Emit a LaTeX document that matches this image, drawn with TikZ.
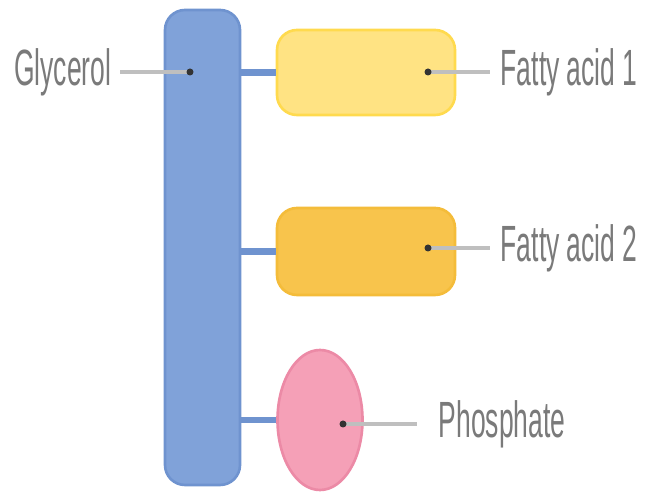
\documentclass[tikz,border=0pt]{standalone}
\usepackage{fontspec}
\newfontfamily\labelfont{Liberation Sans}[FakeStretch=0.52]
\usetikzlibrary{positioning,shapes.geometric}
\definecolor{barblue}{HTML}{80A2D9}
\definecolor{barline}{HTML}{6F93CF}
\definecolor{fayellow}{HTML}{FFE383}
\definecolor{fayline}{HTML}{FFDA4E}
\definecolor{faorange}{HTML}{F8C44C}
\definecolor{faoline}{HTML}{F4BC3A}
\definecolor{phpink}{HTML}{F5A0B7}
\definecolor{phline}{HTML}{EC8AA6}
\definecolor{labelgrey}{HTML}{7A7A7A}
\begin{document}
\begin{tikzpicture}[thick,
  part/.style = {draw, line width=1.5pt, rounded corners=0.4cm},
  bond/.style = {barline, line width=3.6pt},
  pointer/.style = {draw=black!25, line width=2pt},
  tag/.style = {labelgrey, inner sep=0pt, font=\labelfont\fontsize{29}{32}\selectfont},
  dot/.style = {fill=black!80, circle, inner sep=0pt, minimum size=0.14cm}]
  \useasboundingbox (0,0) rectangle (12.96,9.88);
  \node[part,fill=barblue,draw=barline,minimum width=1.5cm,minimum height=9.5cm] (bar) at (4.05,4.93) {};
  \node[part,fill=fayellow,draw=fayline,minimum width=3.56cm,minimum height=1.7cm] (fa1) at (7.32,8.43) {};
  \node[part,fill=faorange,draw=faoline,minimum width=3.56cm,minimum height=1.74cm] (fa2) at (7.32,4.85) {};
  \node[draw=phline,fill=phpink,line width=1.5pt,ellipse,minimum width=1.7cm,minimum height=2.8cm,inner sep=0pt] (ph) at (6.4,1.48) {};
  \draw[bond] (bar.east |- fa1.west) -- (fa1.west);
  \draw[bond] (bar.east |- fa2.west) -- (fa2.west);
  \draw[bond] (bar.east |- ph.west) -- (ph.west);
  \node[tag,anchor=east] (glycerol) at (2.24,8.44) {Glycerol};
  \node[tag,anchor=west] (fatty1) at (10.0,8.44) {Fatty acid 1};
  \node[tag,anchor=west] (fatty2) at (10.0,4.92) {Fatty acid 2};
  \node[tag,anchor=west] (phosphate) at (8.76,1.4) {Phosphate};
  \coordinate (g) at (3.8,8.44);
  \coordinate (f1) at (8.56,8.44);
  \coordinate (f2) at (8.56,4.92);
  \coordinate (p) at (6.86,1.4);
  \draw[pointer,shorten <=0.16cm] (glycerol) -- (g);
  \draw[pointer,shorten >=0.2cm] (f1) -- (fatty1);
  \draw[pointer,shorten >=0.2cm] (f2) -- (fatty2);
  \draw[pointer,shorten >=0.42cm] (p) -- (phosphate);
  \node[dot] at (g) {};
  \node[dot] at (f1) {};
  \node[dot] at (f2) {};
  \node[dot] at (p) {};
\end{tikzpicture}
\end{document}
